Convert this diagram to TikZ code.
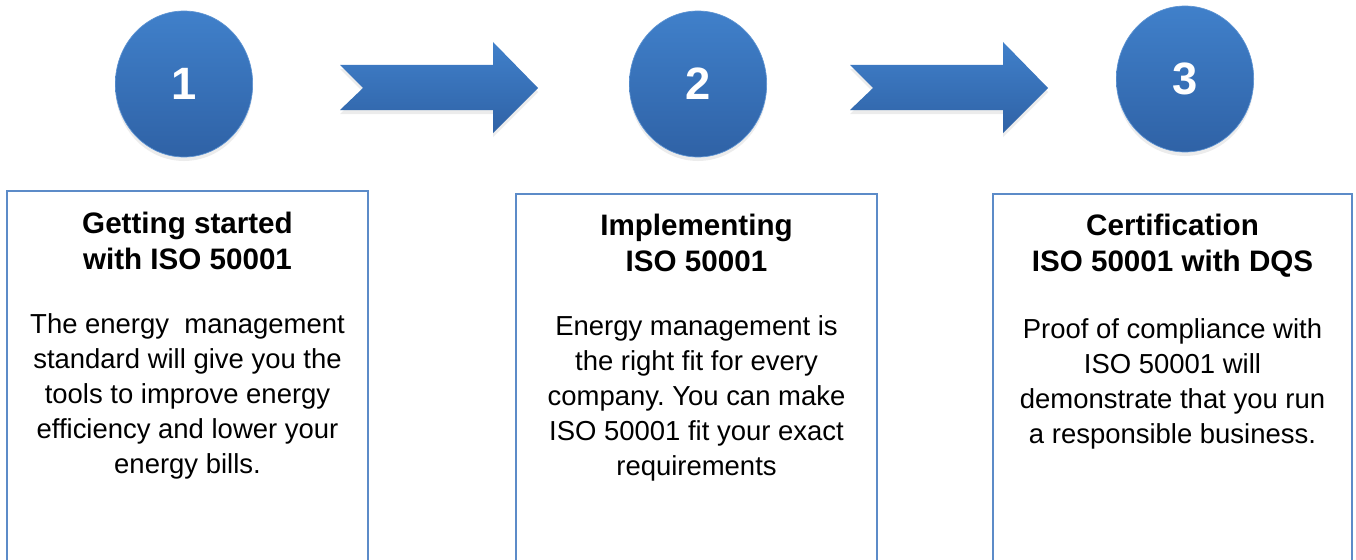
\documentclass[tikz,border=0pt]{standalone}
\usepackage{fontspec}
\setmainfont{Liberation Sans}
\frenchspacing
\usetikzlibrary{positioning,shadows,shapes.geometric}
\definecolor{discTop}{RGB}{64,128,202}
\definecolor{discBottom}{RGB}{47,98,166}
\definecolor{boxLine}{RGB}{92,139,200}
\tikzset{
    disc/.style={ellipse, minimum width=103pt, minimum height=109.5pt,
        top color=discTop, bottom color=discBottom, draw=discTop!85!white, line width=0.5pt,
        text=white, font=\bfseries\fontsize{34}{40}\selectfont,
        drop shadow={opacity=0.15, shadow xshift=0pt, shadow yshift=-3pt}},
    arrowbody/.style={top color=discTop, bottom color=discBottom,
        drop shadow={opacity=0.15, shadow xshift=0pt, shadow yshift=-3pt}},
    stepbox/.style={draw=boxLine, line width=1.5pt, minimum height=320pt, anchor=north},
    headtext/.style={align=center, inner sep=0pt, font=\bfseries\fontsize{22.2}{27}\selectfont},
    bodytext/.style={align=center, inner sep=0pt, font=\fontsize{20.6}{26.25}\selectfont},
}
% digit in a disc, set a little low as in the sheet
\newcommand{\discnum}[1]{\raisebox{-2.2pt}{#1}}
% block arrow, #1 = left end of the tail (px)
\newcommand{\drawarrow}[1]{%
    \pgfmathsetmacro\ArrTail{#1}
    \pgfmathsetmacro\ArrNotch{#1+23}
    \pgfmathsetmacro\ArrNeck{#1+153}
    \pgfmathsetmacro\ArrTip{#1+198}
    \shade[arrowbody] (\ArrTail,65) -- (\ArrNeck,65) -- (\ArrNeck,42) -- (\ArrTip,88)
        -- (\ArrNeck,133) -- (\ArrNeck,110) -- (\ArrTail,110) -- (\ArrNotch,88) -- cycle;
}
\begin{document}
\begin{tikzpicture}[x=0.75pt, y=-0.75pt]% 1 unit = 1px of the 1356x560 sheet
\clip (0,0) rectangle (1356,560);
% numbered discs
\node[disc] (disc1) at (184,84) {\discnum{1}};
\node[disc] (disc2) at (698,84) {\discnum{2}};
\node[disc] (disc3) at (1185,79) {\discnum{3}};
% arrows between the discs
\drawarrow{340}
\drawarrow{850}
% step boxes, cut off by the bottom edge
\node[stepbox, minimum width=270.75pt] (box1) at (187.5,190) {};
\node[stepbox, minimum width=270.75pt] (box2) at (696.5,193) {};
\node[stepbox, minimum width=269.25pt] (box3) at (1172.5,193) {};
% texts
\node[headtext, below=16.5pt of box1.north] (head1) {Getting started\\with ISO 50001};
\node[bodytext, below=32.5pt of head1] (body1) {The energy\ \ management\\standard will give you the\\tools to improve energy\\efficiency and lower your\\energy bills.};
\node[headtext, below=15.5pt of box2.north] (head2) {Implementing\\ISO 50001};
\node[bodytext, below=32.5pt of head2] (body2) {Energy management is\\the right fit for every\\company. You can make\\ISO 50001 fit your exact\\requirements};
\node[headtext, below=15.5pt of box3.north] (head3) {Certification\\ISO 50001 with DQS};
\node[bodytext, below=31pt of head3] (body3) {Proof of compliance with\\ISO 50001 will\\demonstrate that you run\\a responsible business.};
\end{tikzpicture}
\end{document}
